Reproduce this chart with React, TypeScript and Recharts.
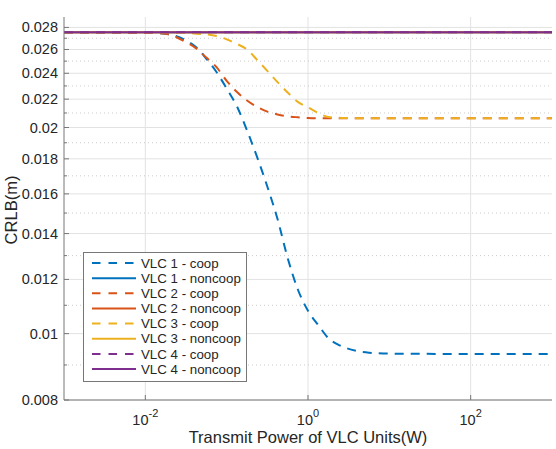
import React from 'react';
import { LineChart, Line, XAxis, YAxis, CartesianGrid } from 'recharts';

// transmit power (W), log spaced reading points
const powerW = [
  0.001, 0.01, 0.0178, 0.0316, 0.0422, 0.0562, 0.075, 0.1, 0.133, 0.178, 0.237, 0.316,
  0.422, 0.562, 0.75, 1, 1.33, 1.78, 2.37, 3.16, 5.62, 10, 100, 1000,
];

const vlc1Coop = [
  0.02754, 0.0275, 0.0274, 0.0268, 0.0262, 0.0252, 0.0241, 0.0228, 0.0215, 0.0198, 0.0181, 0.0164,
  0.0147, 0.0129, 0.0116, 0.0108, 0.0103, 0.00985, 0.00963, 0.0095, 0.00938, 0.00935, 0.00934, 0.00934,
];
const vlc2Coop = [
  0.02754, 0.0275, 0.0274, 0.02665, 0.0261, 0.0253, 0.0245, 0.0234, 0.02255, 0.0219, 0.02143, 0.0211,
  0.0209, 0.02077, 0.0207, 0.02065, 0.02063, 0.02063, 0.02063, 0.02063, 0.02063, 0.02063, 0.02063, 0.02063,
];
const vlc3Coop = [
  0.02754, 0.02754, 0.02752, 0.0275, 0.0274, 0.02735, 0.0272, 0.0269, 0.0265, 0.026, 0.0251, 0.0242,
  0.0233, 0.0225, 0.0218, 0.0214, 0.021, 0.02072, 0.02066, 0.02064, 0.02063, 0.02063, 0.02063, 0.02063,
];
const vlc4Coop = [
  0.02754, 0.02754, 0.02754, 0.02754, 0.02754, 0.02754, 0.02754, 0.02754, 0.02754, 0.02754, 0.02754, 0.02754,
  0.02754, 0.02754, 0.02754, 0.02754, 0.02754, 0.02754, 0.02754, 0.02754, 0.02754, 0.02754, 0.02754, 0.02754,
];
const vlc1Noncoop = [
  0.02754, 0.02754, 0.02754, 0.02754, 0.02754, 0.02754, 0.02754, 0.02754, 0.02754, 0.02754, 0.02754, 0.02754,
  0.02754, 0.02754, 0.02754, 0.02754, 0.02754, 0.02754, 0.02754, 0.02754, 0.02754, 0.02754, 0.02754, 0.02754,
];
const vlc2Noncoop = [...vlc1Noncoop];
const vlc3Noncoop = [...vlc1Noncoop];
const vlc4Noncoop = [...vlc1Noncoop];

const yMajor = [0.008, 0.01, 0.012, 0.014, 0.016, 0.018, 0.02, 0.022, 0.024, 0.026, 0.028];
const yMinor = [0.009, 0.011, 0.013, 0.015, 0.017, 0.019, 0.021, 0.023, 0.025, 0.027];
const xTicks = [0.01, 1, 100];
const xTickExp = ['-2', '0', '2'];

const FONT = '"Liberation Sans", Arial, Helvetica, sans-serif';
const TEXT = '#262626';
const AXIS = '#777777';

const series = [
  { key: 'vlc1Coop', name: 'VLC 1 - coop', values: vlc1Coop, color: '#0072BD', dashed: true },
  { key: 'vlc1Noncoop', name: 'VLC 1 - noncoop', values: vlc1Noncoop, color: '#0072BD', dashed: false },
  { key: 'vlc2Coop', name: 'VLC 2 - coop', values: vlc2Coop, color: '#D95319', dashed: true },
  { key: 'vlc2Noncoop', name: 'VLC 2 - noncoop', values: vlc2Noncoop, color: '#D95319', dashed: false },
  { key: 'vlc3Coop', name: 'VLC 3 - coop', values: vlc3Coop, color: '#EDB120', dashed: true },
  { key: 'vlc3Noncoop', name: 'VLC 3 - noncoop', values: vlc3Noncoop, color: '#EDB120', dashed: false },
  { key: 'vlc4Coop', name: 'VLC 4 - coop', values: vlc4Coop, color: '#7E2F8E', dashed: true },
  { key: 'vlc4Noncoop', name: 'VLC 4 - noncoop', values: vlc4Noncoop, color: '#7E2F8E', dashed: false },
];

const chartData = powerW.map((p, i) => {
  const row: any = { p };
  series.forEach((s) => (row[s.key] = s.values[i]));
  return row;
});

const DASH = '9 7';

const LeftTick = ({ x, y, payload }: any) => {
  const major = yMajor.includes(payload.value);
  return (
    <g>
      <line x1={x} x2={x + (major ? 5 : 3)} y1={y} y2={y} stroke={AXIS} />
      {major && (
        <text x={x - 6} y={y + 5} textAnchor='end' fontFamily={FONT} fontSize={14.5} fill={TEXT}>
          {String(payload.value)}
        </text>
      )}
    </g>
  );
};

const RightTick = ({ x, y, payload }: any) => {
  const major = yMajor.includes(payload.value);
  return <line x1={x} x2={x - (major ? 5 : 3)} y1={y} y2={y} stroke={AXIS} />;
};

const BottomTick = ({ x, y, payload }: any) => {
  const i = xTicks.indexOf(payload.value);
  return (
    <g>
      <line x1={x} x2={x} y1={y} y2={y - 5} stroke={AXIS} />
      <text x={x} y={y + 25} textAnchor='middle' fontFamily={FONT} fontSize={14.5} fill={TEXT}>
        10
        <tspan dy={-8} fontSize={11}>
          {xTickExp[i]}
        </tspan>
      </text>
    </g>
  );
};

const TopTick = ({ x, y }: any) => <line x1={x} x2={x} y1={y} y2={y + 5} stroke={AXIS} />;

export default function App() {
  return (
    <div style={{ position: 'absolute', left: 0, top: 0, width: 556, height: 449, background: '#fff' }}>
      <LineChart width={556} height={449} data={chartData} margin={{ top: 17, right: 4, bottom: 0, left: 0 }}>
        <CartesianGrid
          xAxisId='b'
          yAxisId='l'
          horizontalValues={yMajor}
          verticalValues={xTicks}
          stroke='#e2e2e2'
        />
        <CartesianGrid
          xAxisId='b'
          yAxisId='l'
          horizontalValues={yMinor}
          vertical={false}
          stroke='#cccccc'
          strokeDasharray='1 3'
        />
        <XAxis
          xAxisId='b'
          dataKey='p'
          type='number'
          scale='log'
          domain={[0.001, 1000]}
          allowDataOverflow
          ticks={xTicks}
          interval={0}
          height={49}
          tickSize={0}
          tickMargin={0}
          tick={<BottomTick />}
          axisLine={{ stroke: AXIS }}
        />
        <XAxis
          xAxisId='t'
          orientation='top'
          dataKey='p'
          type='number'
          scale='log'
          domain={[0.001, 1000]}
          allowDataOverflow
          ticks={xTicks}
          interval={0}
          height={0}
          tickSize={0}
          tickMargin={0}
          tick={<TopTick />}
          axisLine={{ stroke: AXIS }}
        />
        <YAxis
          yAxisId='l'
          type='number'
          scale='log'
          domain={[0.008, 0.029]}
          allowDataOverflow
          ticks={[...yMajor, ...yMinor]}
          interval={0}
          width={64}
          tickSize={0}
          tickMargin={0}
          tick={<LeftTick />}
          axisLine={{ stroke: AXIS }}
        />
        <YAxis
          yAxisId='r'
          orientation='right'
          type='number'
          scale='log'
          domain={[0.008, 0.029]}
          allowDataOverflow
          ticks={[...yMajor, ...yMinor]}
          interval={0}
          width={0}
          tickSize={0}
          tickMargin={0}
          tick={<RightTick />}
          axisLine={{ stroke: AXIS }}
        />
        {series.map((s) => (
          <Line
            key={s.key}
            xAxisId='b'
            yAxisId='l'
            type='monotone'
            dataKey={s.key}
            stroke={s.color}
            strokeWidth={2}
            strokeDasharray={s.dashed ? DASH : undefined}
            dot={false}
            activeDot={false}
            isAnimationActive={false}
          />
        ))}
      </LineChart>
      <svg width={556} height={449} style={{ position: 'absolute', left: 0, top: 0, pointerEvents: 'none' }}>
        <text x={308} y={443} textAnchor='middle' fontFamily={FONT} fontSize={16.5} fill={TEXT}>
          Transmit Power of VLC Units(W)
        </text>
        <text
          x={17}
          y={210}
          transform='rotate(-90 17 210)'
          textAnchor='middle'
          fontFamily={FONT}
          fontSize={16.5}
          fill={TEXT}
        >
          CRLB(m)
        </text>
        <rect x={83.5} y={252.5} width={163} height={129} fill='#fff' stroke={AXIS} />
        {series.map((s, i) => {
          const cy = 263 + i * 15.15;
          return (
            <g key={s.key}>
              <line
                x1={92}
                x2={136}
                y1={cy}
                y2={cy}
                stroke={s.color}
                strokeWidth={2}
                strokeDasharray={s.dashed ? '8.5 8' : undefined}
              />
              <text x={141} y={cy + 4.7} fontFamily={FONT} fontSize={13.3} fill={TEXT}>
                {s.name}
              </text>
            </g>
          );
        })}
      </svg>
    </div>
  );
}
